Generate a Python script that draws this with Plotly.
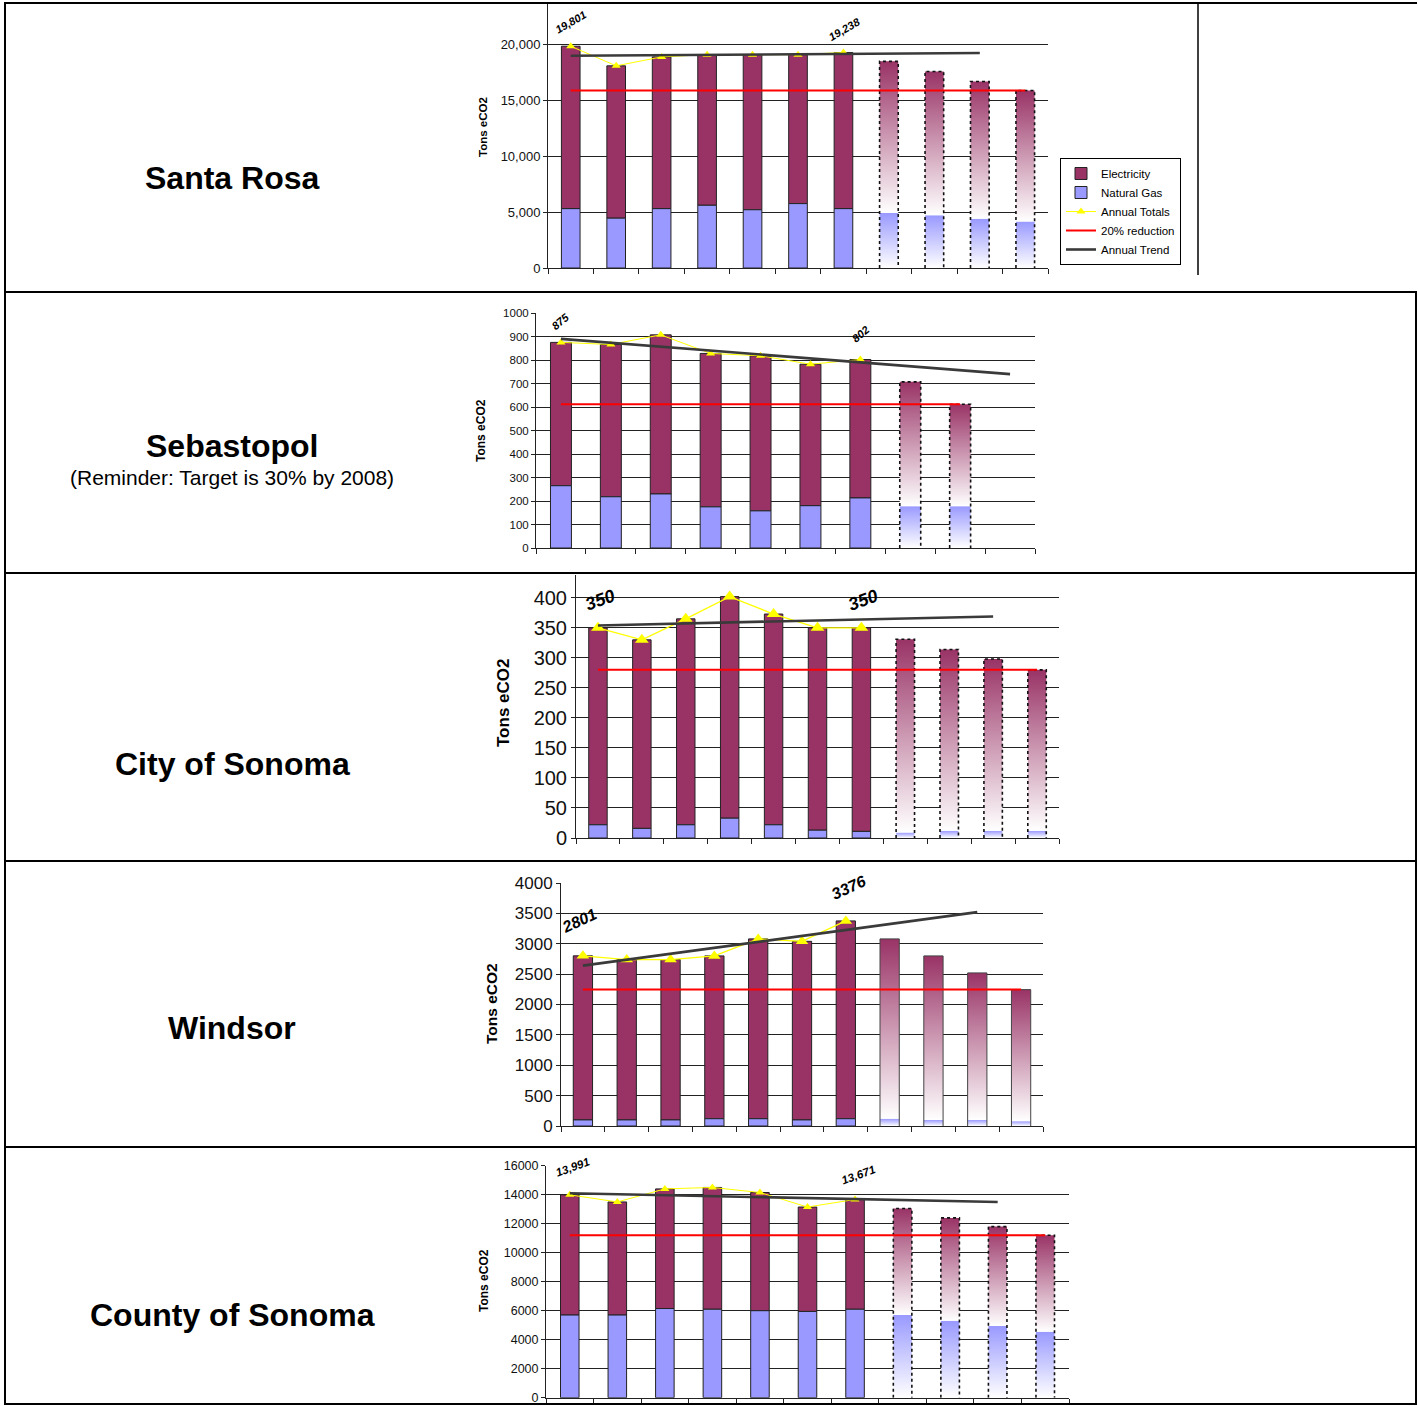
import plotly.graph_objects as go

W, H = 1418, 1406
FONT = "Arial, Liberation Sans, sans-serif"

# ---------------- data ----------------
row_names = ["Santa Rosa", "Sebastopol", "City of Sonoma", "Windsor", "County of Sonoma"]
row_subtitle = "(Reminder: Target is 30% by 2008)"
legend_names = ["Electricity", "Natural Gas", "Annual Totals", "20% reduction", "Annual Trend"]

# Santa Rosa
sr_total = [19801, 18050, 18850, 19050, 19050, 19050, 19238, 18450, 17550, 16650, 15850]
sr_gas = [5300, 4450, 5300, 5600, 5200, 5750, 5300, 4900, 4700, 4400, 4150]
sr_trend = [18950, 19200]          # trend value at first slot and at slot 9
sr_target = 15850

# Sebastopol
sb_total = [875, 866, 907, 828, 818, 782, 802, 707, 612]
sb_gas = [265, 218, 230, 175, 158, 180, 213, 178, 178]
sb_trend = [890, 740]
sb_target = 612

# City of Sonoma
cs_total = [350, 330, 365, 402, 373, 350, 350, 331, 314, 298, 280]
cs_gas = [22, 16, 22, 33, 22, 13, 11, 9, 12, 12, 12]
cs_trend = [354, 369]
cs_target = 280

# Windsor
wd_total = [2801, 2740, 2740, 2800, 3080, 3040, 3376, 3080, 2800, 2520, 2245]
wd_gas = [100, 100, 100, 120, 120, 100, 120, 120, 100, 100, 80]
wd_trend = [2640, 3520]
wd_target = 2245

# County of Sonoma
co_total = [13991, 13500, 14400, 14500, 14150, 13150, 13671, 13050, 12400, 11800, 11200]
co_gas = [5700, 5700, 6150, 6100, 6000, 5950, 6100, 5700, 5300, 4950, 4550]
co_trend = [14100, 13500]
co_target = 11200

n_actual = 7          # measured years; the rest are projections
trend_end_slot = 9

ELEC = "#993366"
GAS = "#9999FF"


def px(x):
    return x / W


def py(y):
    return 1 - y / H


charts = [
    dict(total=sr_total, gas=sr_gas, trend=sr_trend, target=sr_target, nslots=11,
         xdom=(548, 1048), ydom=(268, 4), yrange=[0, 23571], dtick=5000, fmt=",d",
         tickfs=13, titlefs=11.5, title_xy=(483, 127), lblfs=11, lblang=-30,
         lblshift=[24, 24], lblx=[0, 1], barw=0.41, msize=8, lw=1, proj_dash="dot",
         comma=True),
    dict(total=sb_total, gas=sb_gas, trend=sb_trend, target=sb_target, nslots=10,
         xdom=(536, 1035), ydom=(548, 313), yrange=[0, 1000], dtick=100, fmt="d",
         tickfs=11.5, titlefs=12, title_xy=(481, 430), lblfs=11, lblang=-40,
         lblshift=[21, 26], lblx=[0, 0], barw=0.42, msize=8, lw=1, proj_dash="dot",
         comma=False),
    dict(total=cs_total, gas=cs_gas, trend=cs_trend, target=cs_target, nslots=11,
         xdom=(576, 1059), ydom=(838, 575), yrange=[0, 438], dtick=50, fmt="d",
         tickfs=20, titlefs=17, title_xy=(503, 703), lblfs=18, lblang=-20,
         lblshift=[28, 28], lblx=[2, 2], barw=0.42, msize=12, lw=1.3, proj_dash="dot",
         comma=False),
    dict(total=wd_total, gas=wd_gas, trend=wd_trend, target=wd_target, nslots=11,
         xdom=(561, 1043), ydom=(1126, 883), yrange=[0, 4000], dtick=500, fmt="d",
         tickfs=17, titlefs=15.5, title_xy=(491, 1004), lblfs=16, lblang=-25,
         lblshift=[35, 33], lblx=[-3, 3], barw=0.44, msize=11, lw=1.3, proj_dash="solid",
         comma=False),
    dict(total=co_total, gas=co_gas, trend=co_trend, target=co_target, nslots=11,
         xdom=(546, 1069), ydom=(1397.7, 1165.7), yrange=[0, 16000], dtick=2000, fmt="d",
         tickfs=12.5, titlefs=12, title_xy=(484, 1281), lblfs=11.5, lblang=-20,
         lblshift=[28, 24], lblx=[3, 3], barw=0.39, msize=8, lw=1, proj_dash="dot",
         comma=True),
]

fig = go.Figure()
annotations = []
layout_axes = {}

for k, c in enumerate(charts, start=1):
    xa = "x" if k == 1 else f"x{k}"
    ya = "y" if k == 1 else f"y{k}"
    xkey = "xaxis" if k == 1 else f"xaxis{k}"
    ykey = "yaxis" if k == 1 else f"yaxis{k}"
    first = (k == 1)
    total, gas = c["total"], c["gas"]
    w = c["barw"]
    elec = [t - g for t, g in zip(total, gas)]
    act = list(range(n_actual))

    # measured bars: electricity stacked on gas
    fig.add_trace(go.Bar(
        x=act, y=elec[:n_actual], base=gas[:n_actual], width=w, name=legend_names[0],
        marker=dict(color=ELEC, line=dict(color="#222222", width=1)),
        xaxis=xa, yaxis=ya, showlegend=first, legendrank=1, hoverinfo="skip"))
    fig.add_trace(go.Bar(
        x=act, y=gas[:n_actual], width=w, name=legend_names[1],
        marker=dict(color=GAS, line=dict(color="#222222", width=1)),
        xaxis=xa, yaxis=ya, showlegend=first, legendrank=2, hoverinfo="skip"))

    # projected bars: gradient fills with dotted outline
    for i in range(n_actual, len(total)):
        x0, x1 = i - w / 2, i + w / 2
        fig.add_trace(go.Scatter(
            x=[x0, x1, x1, x0, x0], y=[0, 0, gas[i], gas[i], 0], mode="lines",
            fill="toself", line=dict(width=0, color="rgba(0,0,0,0)"),
            fillgradient=dict(type="vertical", colorscale=[[0, "#FFFFFF"], [1, GAS]]),
            xaxis=xa, yaxis=ya, showlegend=False, hoverinfo="skip"))
        fig.add_trace(go.Scatter(
            x=[x0, x1, x1, x0, x0], y=[gas[i], gas[i], total[i], total[i], gas[i]],
            mode="lines", fill="toself", line=dict(width=0, color="rgba(0,0,0,0)"),
            fillgradient=dict(type="vertical", colorscale=[[0, "#FFFFFF"], [1, ELEC]]),
            xaxis=xa, yaxis=ya, showlegend=False, hoverinfo="skip"))
        fig.add_trace(go.Scatter(
            x=[x0, x0, x1, x1], y=[0, total[i], total[i], 0], mode="lines",
            line=dict(color="#111111" if c["proj_dash"] == "dot" else "#444444",
                      width=1.6 if c["proj_dash"] == "dot" else 1, dash=c["proj_dash"]),
            xaxis=xa, yaxis=ya, showlegend=False, hoverinfo="skip"))

    # annual totals
    fig.add_trace(go.Scatter(
        x=act, y=total[:n_actual], mode="lines+markers", name=legend_names[2],
        line=dict(color="#FFFF00", width=c["lw"]),
        marker=dict(symbol="triangle-up", size=c["msize"], color="#FFFF00"),
        xaxis=xa, yaxis=ya, showlegend=first, legendrank=3, hoverinfo="skip"))
    # 20% reduction target
    fig.add_trace(go.Scatter(
        x=[0, len(total) - 1], y=[c["target"], c["target"]], mode="lines",
        name=legend_names[3], line=dict(color="#FF0000", width=2),
        xaxis=xa, yaxis=ya, showlegend=first, legendrank=4, hoverinfo="skip"))
    # trend
    fig.add_trace(go.Scatter(
        x=[0, trend_end_slot], y=c["trend"], mode="lines", name=legend_names[4],
        line=dict(color="#3a3a3a", width=2.6),
        xaxis=xa, yaxis=ya, showlegend=first, legendrank=5, hoverinfo="skip"))

    n = c["nslots"]
    layout_axes[xkey] = dict(
        domain=[px(c["xdom"][0]), px(c["xdom"][1])], range=[-0.5, n - 0.5],
        anchor=ya, showgrid=False, zeroline=False, showline=True, linecolor="#222222",
        linewidth=1, ticks="outside", ticklen=5, tickcolor="#222222",
        tickvals=[j - 0.5 for j in range(n + 1)], ticktext=[""] * (n + 1),
        fixedrange=True)
    layout_axes[ykey] = dict(
        domain=[py(c["ydom"][0]), py(c["ydom"][1])], range=c["yrange"],
        anchor=xa, showgrid=True, gridcolor="#222222", gridwidth=1, zeroline=False,
        showline=True, linecolor="#222222", linewidth=1, ticks="outside", ticklen=4,
        tickcolor="#222222", dtick=c["dtick"], tick0=0, tickformat=c["fmt"],
        tickfont=dict(family=FONT, size=c["tickfs"], color="#111111"), fixedrange=True)

    # axis title
    annotations.append(dict(
        text="<b>Tons eCO2</b>", x=px(c["title_xy"][0]), y=py(c["title_xy"][1]),
        xref="paper", yref="paper", textangle=-90, showarrow=False,
        xanchor="center", yanchor="middle",
        font=dict(family=FONT, size=c["titlefs"], color="#000000")))
    # data labels on first and last measured year
    for j, idx in enumerate([0, n_actual - 1]):
        v = total[idx]
        txt = f"{v:,}" if c["comma"] else f"{v}"
        annotations.append(dict(
            text=f"<b><i>{txt}</i></b>", x=idx, y=v, xref=xa, yref=ya,
            xshift=c["lblx"][j], yshift=c["lblshift"][j], textangle=c["lblang"],
            xanchor="center", yanchor="middle",
            showarrow=False, font=dict(family=FONT, size=c["lblfs"], color="#000000")))

# row labels
row_centers = [178, 446, 764, 1028, 1315]
for name, yc in zip(row_names, row_centers):
    annotations.append(dict(
        text=f"<b>{name}</b>", x=px(232), y=py(yc), xref="paper", yref="paper",
        xanchor="center", yanchor="middle",
        showarrow=False, font=dict(family=FONT, size=32, color="#000000")))
annotations.append(dict(
    text=row_subtitle, x=px(232), y=py(477), xref="paper", yref="paper",
    xanchor="center", yanchor="middle",
    showarrow=False, font=dict(family=FONT, size=21, color="#000000")))

# table borders
shapes = []


def hline(y, x0, x1, w=2):
    shapes.append(dict(type="line", xref="paper", yref="paper", x0=px(x0), x1=px(x1),
                       y0=py(y), y1=py(y), line=dict(color="#000000", width=w)))


def vline(x, y0, y1, w=2):
    shapes.append(dict(type="line", xref="paper", yref="paper", x0=px(x), x1=px(x),
                       y0=py(y0), y1=py(y1), line=dict(color="#000000", width=w)))


for yb in [3, 292, 573, 861, 1147, 1404]:
    hline(yb, 4, 1417)
vline(5, 3, 1404)
vline(1416, 292, 1404)
vline(1198, 3, 275, 1.5)

fig.update_layout(
    width=W, height=H, margin=dict(l=0, r=0, t=0, b=0, pad=0, autoexpand=False),
    paper_bgcolor="white", plot_bgcolor="white", barmode="overlay",
    font=dict(family=FONT, color="#000000"),
    annotations=annotations, shapes=shapes,
    legend=dict(x=px(1060), y=py(158), xanchor="left", yanchor="top",
                bgcolor="white", bordercolor="#000000", borderwidth=1,
                font=dict(family=FONT, size=11.5, color="#000000"),
                tracegroupgap=0, itemwidth=30, traceorder="normal"),
    **layout_axes,
)

fig.write_html(
    "out.html",
    config={"displayModeBar": False, "staticPlot": True},
    post_script="document.body.style.margin='0';document.body.style.overflow='hidden';",
)
